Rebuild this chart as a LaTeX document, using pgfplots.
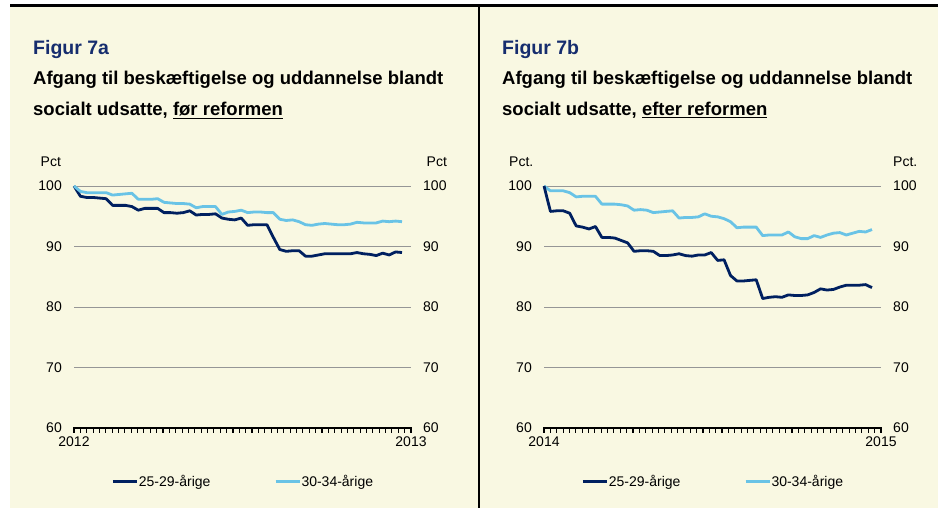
\documentclass[border=0pt]{standalone}
\usepackage{pgfplots}
\pgfplotsset{compat=1.18}
\usepackage{fontspec}
\setmainfont{Liberation Sans}
\definecolor{bg}{RGB}{249,248,226}
\definecolor{navy}{RGB}{0,32,96}
\definecolor{lblue}{RGB}{105,195,230}
\definecolor{ttl}{RGB}{22,45,110}
\definecolor{grd}{RGB}{150,150,150}

\pgfplotstableread{
w a b
0 100 100
1 98.3 99.1
2 98.1 98.9
3 98.1 98.9
4 98.0 98.9
5 97.9 98.9
6 96.8 98.5
7 96.8 98.6
8 96.8 98.7
9 96.6 98.8
10 96.0 97.8
11 96.3 97.8
12 96.3 97.8
13 96.3 97.9
14 95.6 97.3
15 95.6 97.2
16 95.5 97.1
17 95.6 97.1
18 95.9 97.0
19 95.2 96.4
20 95.3 96.6
21 95.3 96.6
22 95.4 96.6
23 94.7 95.3
24 94.5 95.7
25 94.4 95.8
26 94.7 96.0
27 93.5 95.6
28 93.6 95.7
29 93.6 95.7
30 93.6 95.6
31 91.5 95.6
32 89.5 94.5
33 89.2 94.3
34 89.3 94.4
35 89.3 94.1
36 88.4 93.6
37 88.4 93.5
38 88.6 93.7
39 88.8 93.8
40 88.8 93.7
41 88.8 93.6
42 88.8 93.6
43 88.8 93.7
44 89.0 94.0
45 88.8 93.9
46 88.7 93.9
47 88.5 93.9
48 88.9 94.2
49 88.6 94.1
50 89.1 94.2
51 89.0 94.1
}\tablea

\pgfplotstableread{
w a b
0 100 100
1 95.8 99.2
2 95.9 99.2
3 95.9 99.2
4 95.5 98.9
5 93.4 98.2
6 93.2 98.3
7 92.9 98.3
8 93.3 98.3
9 91.5 97.0
10 91.5 97.0
11 91.4 97.0
12 91.0 96.9
13 90.6 96.7
14 89.2 96.0
15 89.3 96.1
16 89.3 96.0
17 89.2 95.6
18 88.5 95.7
19 88.5 95.8
20 88.6 95.9
21 88.8 94.7
22 88.5 94.8
23 88.4 94.8
24 88.6 94.9
25 88.6 95.4
26 89.0 95.0
27 87.7 94.9
28 87.8 94.6
29 85.2 94.1
30 84.3 93.1
31 84.3 93.2
32 84.4 93.2
33 84.5 93.2
34 81.4 91.8
35 81.6 91.9
36 81.7 91.9
37 81.6 91.9
38 82.0 92.4
39 81.9 91.6
40 81.9 91.3
41 82.0 91.3
42 82.4 91.8
43 83.0 91.5
44 82.8 91.9
45 82.9 92.2
46 83.3 92.3
47 83.6 91.9
48 83.6 92.2
49 83.6 92.5
50 83.7 92.4
51 83.2 92.8
}\tableb

\pgfplotsset{
  base/.style={
    scale only axis, width=337pt, height=242pt,
    anchor=south west,
    xmin=0, xmax=52.4, ymin=60, ymax=100,
    ytick={60,70,80,90,100},
    major tick length=0pt,
    ticklabel style={font=\fontsize{14}{14}\selectfont, inner sep=0pt},
    /pgf/number format/assume math mode=true,
    clip=false,
  },
  panel/.style={
    base,
    axis x line*=bottom, axis y line*=left,
    y axis line style={draw=none},
    x axis line style={draw=none},
    ymajorgrids, grid style={grd, line width=0.8pt},
    xtick={0,52.4},
    tick style={draw=none},
    yticklabel style={anchor=east, xshift=-12pt},
    xticklabel style={yshift=-9pt},
    legend columns=2,
    legend style={at={(axis description cs:0.5,-0.223)}, anchor=center,
      draw=none, fill=none, font=\fontsize{14}{14}\selectfont,
      /tikz/every even column/.append style={column sep=63pt},
      nodes={inner sep=0.5pt}},
    legend image code/.code={\draw[##1, line width=3pt] (0pt,0pt) -- (24pt,0pt);},
  },
  rightax/.style={
    base,
    axis y line*=right, hide x axis,
    y axis line style={draw=none},
    tick style={draw=none},
    yticklabel style={anchor=west, xshift=12pt},
  },
}

\begin{document}
\begin{tikzpicture}[x=1pt,y=1pt]
\useasboundingbox (0,0) rectangle (938,508);
\fill[bg] (10,0) rectangle (938,502.5);
\draw[black, line width=2.5pt] (10,502.7) -- (938,502.7);
\draw[black, line width=2pt] (478.5,0) -- (478.5,503);

% titles
\node[anchor=base west, inner sep=0pt, text=ttl, font=\fontsize{19.5}{20}\selectfont\bfseries] at (33,453) {Figur 7a};
\node[anchor=base west, inner sep=0pt, font=\fontsize{18.5}{20}\selectfont\bfseries] at (33,423) {Afgang til beskæftigelse og uddannelse blandt};
\node[anchor=base west, inner sep=0pt, font=\fontsize{18.5}{20}\selectfont\bfseries] at (33,392) {socialt udsatte, \underline{før reformen}};

\node[anchor=base west, inner sep=0pt, text=ttl, font=\fontsize{19.5}{20}\selectfont\bfseries] at (502,453) {Figur 7b};
\node[anchor=base west, inner sep=0pt, font=\fontsize{18.5}{20}\selectfont\bfseries] at (502,423) {Afgang til beskæftigelse og uddannelse blandt};
\node[anchor=base west, inner sep=0pt, font=\fontsize{18.5}{20}\selectfont\bfseries] at (502,392) {socialt udsatte, \underline{efter reformen}};

% unit labels
\node[anchor=base west, inner sep=0pt, font=\fontsize{14}{14}\selectfont] at (40.5,341) {Pct};
\node[anchor=base west, inner sep=0pt, font=\fontsize{14}{14}\selectfont] at (426.5,341) {Pct};
\node[anchor=base west, inner sep=0pt, font=\fontsize{14}{14}\selectfont] at (509,341) {Pct.};
\node[anchor=base west, inner sep=0pt, font=\fontsize{14}{14}\selectfont] at (893,341) {Pct.};

% panel a
\begin{axis}[panel, at={(74pt,80pt)}, xticklabels={2012,2013}]
\addplot[navy, line width=2.8pt, line join=round] table[x=w, y=a] {\tablea};
\addlegendentry{25-29-årige}
\addplot[lblue, line width=2.8pt, line join=round] table[x=w, y=b] {\tablea};
\addlegendentry{30-34-årige}
\end{axis}
\begin{axis}[rightax, at={(74pt,80pt)}]
\end{axis}

% panel b
\begin{axis}[panel, at={(544pt,80pt)}, xticklabels={2014,2015}]
\addplot[lblue, line width=2.8pt, line join=round, forget plot] table[x=w, y=b] {\tableb};
\addplot[navy, line width=2.8pt, line join=round] table[x=w, y=a] {\tableb};
\addlegendentry{25-29-årige}
\addlegendimage{lblue}
\addlegendentry{30-34-årige}
\end{axis}
\begin{axis}[rightax, at={(544pt,80pt)}]
\end{axis}

% axis baselines and week ticks (decoration)
\foreach \ox in {74,544}{
  \foreach \k in {0,...,53}{
    \draw[black, line width=1.1pt] ({\ox+\k*6.3585},80.5) -- ++(0,-5.5);
  }
  \draw[black, line width=1.3pt] (\ox,80) -- ++(337,0);
}
\end{tikzpicture}
\end{document}
